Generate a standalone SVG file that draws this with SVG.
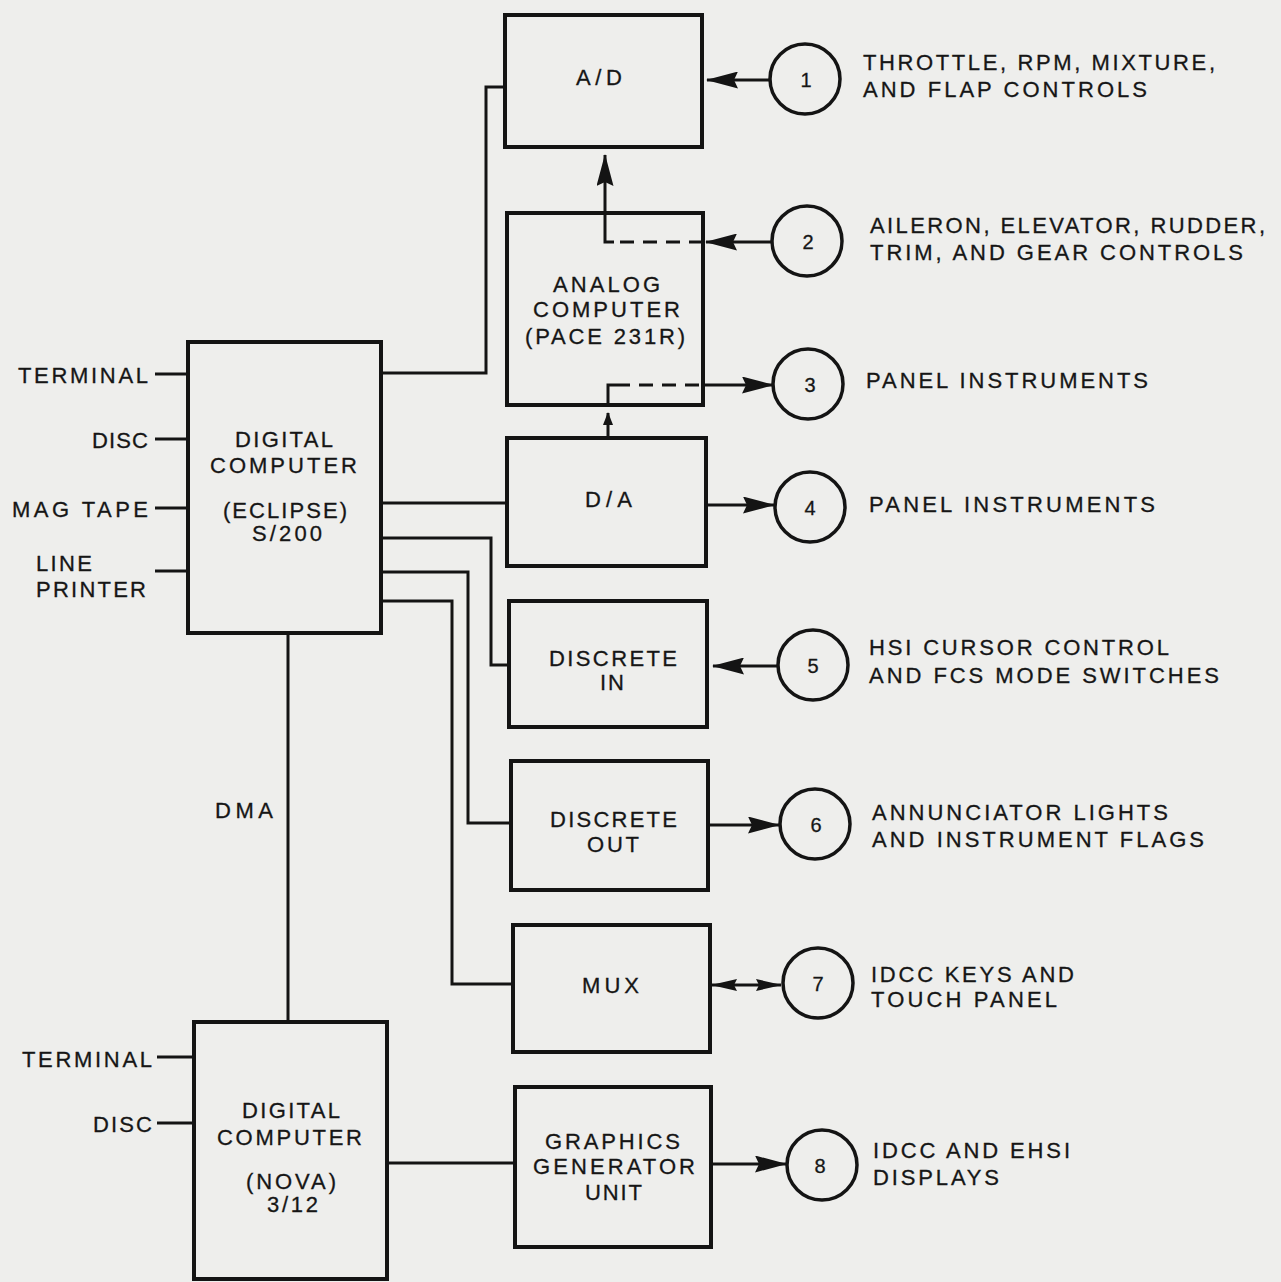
<svg xmlns="http://www.w3.org/2000/svg" width="1281" height="1282" viewBox="0 0 1281 1282">
<style>
  .box { fill: none; stroke: #141414; stroke-width: 4; }
  .circ { fill: none; stroke: #141414; stroke-width: 3.5; }
  .ln { fill: none; stroke: #141414; stroke-width: 3; }
  .dash { fill: none; stroke: #141414; stroke-width: 3; stroke-dasharray: 14 9; }
  text { font-family: "Liberation Sans", Arial, sans-serif; font-size: 22px; fill: #161616; stroke: #161616; stroke-width: 0.3; }
  .num { font-size: 20px; text-anchor: middle; }
</style>
<defs>
  <marker id="arr" markerUnits="userSpaceOnUse" markerWidth="34" markerHeight="17" viewBox="0 0 32 17" refX="31" refY="8.5" orient="auto">
    <path d="M0,0 L32,8.5 L0,17 L4,8.5 z" fill="#141414"/>
  </marker>
  <marker id="arrs" markerUnits="userSpaceOnUse" markerWidth="13" markerHeight="10" viewBox="0 0 13 10" refX="12" refY="5" orient="auto">
    <path d="M0,0 L13,5 L0,10 z" fill="#141414"/>
  </marker>
  <marker id="arrm" markerUnits="userSpaceOnUse" markerWidth="26" markerHeight="12" viewBox="0 0 26 12" refX="25" refY="6" orient="auto-start-reverse">
    <path d="M0,0 L26,6 L0,12 L3,6 z" fill="#141414"/>
  </marker>
</defs>
<rect x="0" y="0" width="1281" height="1282" fill="#eeeeec"/>

<g id="connectors">
  <path class="ln" d="M155,374 H188"/>
  <path class="ln" d="M155,439 H188"/>
  <path class="ln" d="M155,508 H188"/>
  <path class="ln" d="M155,571 H188"/>
  <path class="ln" d="M157,1057 H194"/>
  <path class="ln" d="M157,1123 H194"/>
  <path class="ln" d="M381,373 H486 V87 H505"/>
  <path class="ln" d="M381,503 H507"/>
  <path class="ln" d="M381,538 H491 V665 H509"/>
  <path class="ln" d="M381,572 H468 V823 H511"/>
  <path class="ln" d="M381,601 H452 V984 H513"/>
  <path class="ln" d="M288,633 V1022"/>
  <path class="ln" d="M387,1163 H515"/>
  <path class="ln" d="M770,80 H707" marker-end="url(#arr)"/>
  <path class="ln" d="M772,242 H706" marker-end="url(#arr)"/>
  <path class="dash" d="M703,242 H612"/>
  <path class="ln" d="M614,242 H605 V155" marker-end="url(#arr)"/>
  <path class="ln" d="M608,438 V413" marker-end="url(#arrs)"/>
  <path class="ln" d="M608,405 V385 H616"/>
  <path class="dash" d="M616,385 H703"/>
  <path class="ln" d="M703,385 H773" marker-end="url(#arr)"/>
  <path class="ln" d="M706,505 H774" marker-end="url(#arr)"/>
  <path class="ln" d="M778,666 H713" marker-end="url(#arr)"/>
  <path class="ln" d="M708,825 H779" marker-end="url(#arr)"/>
  <path class="ln" d="M712,985 H781" marker-start="url(#arrm)" marker-end="url(#arrm)"/>
  <path class="ln" d="M711,1164 H786" marker-end="url(#arr)"/>
</g>

<g id="labels-left">
  <text x="18" y="383" textLength="130" lengthAdjust="spacing">TERMINAL</text>
  <text x="92" y="448" textLength="56" lengthAdjust="spacing">DISC</text>
  <text x="12" y="517" textLength="136" lengthAdjust="spacing">MAG TAPE</text>
  <text x="36" y="571" textLength="56" lengthAdjust="spacing">LINE</text>
  <text x="36" y="597" textLength="110" lengthAdjust="spacing">PRINTER</text>
  <text x="215" y="818" textLength="58" lengthAdjust="spacing">DMA</text>
  <text x="22" y="1067" textLength="130" lengthAdjust="spacing">TERMINAL</text>
  <text x="93" y="1132" textLength="59" lengthAdjust="spacing">DISC</text>
</g>

<g id="eclipse">
  <rect class="box" x="188" y="342" width="193" height="291"/>
  <text x="235" y="447" textLength="98" lengthAdjust="spacing">DIGITAL</text>
  <text x="210" y="473" textLength="147" lengthAdjust="spacing">COMPUTER</text>
  <text x="223" y="518" textLength="124" lengthAdjust="spacing">(ECLIPSE)</text>
  <text x="252" y="541" textLength="70" lengthAdjust="spacing">S/200</text>
</g>

<g id="nova">
  <rect class="box" x="194" y="1022" width="193" height="257"/>
  <text x="242" y="1118" textLength="98" lengthAdjust="spacing">DIGITAL</text>
  <text x="217" y="1145" textLength="145" lengthAdjust="spacing">COMPUTER</text>
  <text x="246" y="1189" textLength="90" lengthAdjust="spacing">(NOVA)</text>
  <text x="267" y="1212" textLength="51" lengthAdjust="spacing">3/12</text>
</g>

<g id="ad">
  <rect class="box" x="505" y="15" width="197" height="132"/>
  <text x="576" y="85" textLength="46" lengthAdjust="spacing">A/D</text>
</g>

<g id="analog">
  <rect class="box" x="507" y="213" width="196" height="192"/>
  <text x="553" y="292" textLength="107" lengthAdjust="spacing">ANALOG</text>
  <text x="533" y="317" textLength="147" lengthAdjust="spacing">COMPUTER</text>
  <text x="525" y="344" textLength="160" lengthAdjust="spacing">(PACE 231R)</text>
</g>

<g id="da">
  <rect class="box" x="507" y="438" width="199" height="128"/>
  <text x="585" y="507" textLength="47" lengthAdjust="spacing">D/A</text>
</g>

<g id="discrete-in">
  <rect class="box" x="509" y="601" width="198" height="126"/>
  <text x="549" y="666" textLength="128" lengthAdjust="spacing">DISCRETE</text>
  <text x="600" y="690" textLength="24" lengthAdjust="spacing">IN</text>
</g>

<g id="discrete-out">
  <rect class="box" x="511" y="761" width="197" height="129"/>
  <text x="550" y="827" textLength="127" lengthAdjust="spacing">DISCRETE</text>
  <text x="587" y="852" textLength="52" lengthAdjust="spacing">OUT</text>
</g>

<g id="mux">
  <rect class="box" x="513" y="925" width="197" height="127"/>
  <text x="582" y="993" textLength="57" lengthAdjust="spacing">MUX</text>
</g>

<g id="graphics">
  <rect class="box" x="515" y="1087" width="196" height="160"/>
  <text x="545" y="1149" textLength="135" lengthAdjust="spacing">GRAPHICS</text>
  <text x="533" y="1174" textLength="162" lengthAdjust="spacing">GENERATOR</text>
  <text x="585" y="1200" textLength="57" lengthAdjust="spacing">UNIT</text>
</g>

<g id="c1">
  <circle class="circ" cx="805" cy="79" r="35"/>
  <text class="num" x="806" y="87">1</text>
  <text x="863" y="70" textLength="352" lengthAdjust="spacing">THROTTLE, RPM, MIXTURE,</text>
  <text x="863" y="97" textLength="284" lengthAdjust="spacing">AND FLAP CONTROLS</text>
</g>
<g id="c2">
  <circle class="circ" cx="807" cy="241" r="35"/>
  <text class="num" x="808" y="249">2</text>
  <text x="870" y="233" textLength="395" lengthAdjust="spacing">AILERON, ELEVATOR, RUDDER,</text>
  <text x="870" y="260" textLength="373" lengthAdjust="spacing">TRIM, AND GEAR CONTROLS</text>
</g>
<g id="c3">
  <circle class="circ" cx="808" cy="384" r="35"/>
  <text class="num" x="810" y="392">3</text>
  <text x="866" y="388" textLength="282" lengthAdjust="spacing">PANEL INSTRUMENTS</text>
</g>
<g id="c4">
  <circle class="circ" cx="810" cy="507" r="35"/>
  <text class="num" x="810" y="515">4</text>
  <text x="869" y="512" textLength="286" lengthAdjust="spacing">PANEL INSTRUMENTS</text>
</g>
<g id="c5">
  <circle class="circ" cx="813" cy="665" r="35"/>
  <text class="num" x="813" y="673">5</text>
  <text x="869" y="655" textLength="300" lengthAdjust="spacing">HSI CURSOR CONTROL</text>
  <text x="869" y="683" textLength="350" lengthAdjust="spacing">AND FCS MODE SWITCHES</text>
</g>
<g id="c6">
  <circle class="circ" cx="815" cy="824" r="35"/>
  <text class="num" x="816" y="832">6</text>
  <text x="872" y="820" textLength="296" lengthAdjust="spacing">ANNUNCIATOR LIGHTS</text>
  <text x="872" y="847" textLength="332" lengthAdjust="spacing">AND INSTRUMENT FLAGS</text>
</g>
<g id="c7">
  <circle class="circ" cx="818" cy="983" r="35"/>
  <text class="num" x="818" y="991">7</text>
  <text x="871" y="982" textLength="203" lengthAdjust="spacing">IDCC KEYS AND</text>
  <text x="871" y="1007" textLength="186" lengthAdjust="spacing">TOUCH PANEL</text>
</g>
<g id="c8">
  <circle class="circ" cx="822" cy="1165" r="35"/>
  <text class="num" x="820" y="1173">8</text>
  <text x="873" y="1158" textLength="197" lengthAdjust="spacing">IDCC AND EHSI</text>
  <text x="873" y="1185" textLength="126" lengthAdjust="spacing">DISPLAYS</text>
</g>
</svg>
